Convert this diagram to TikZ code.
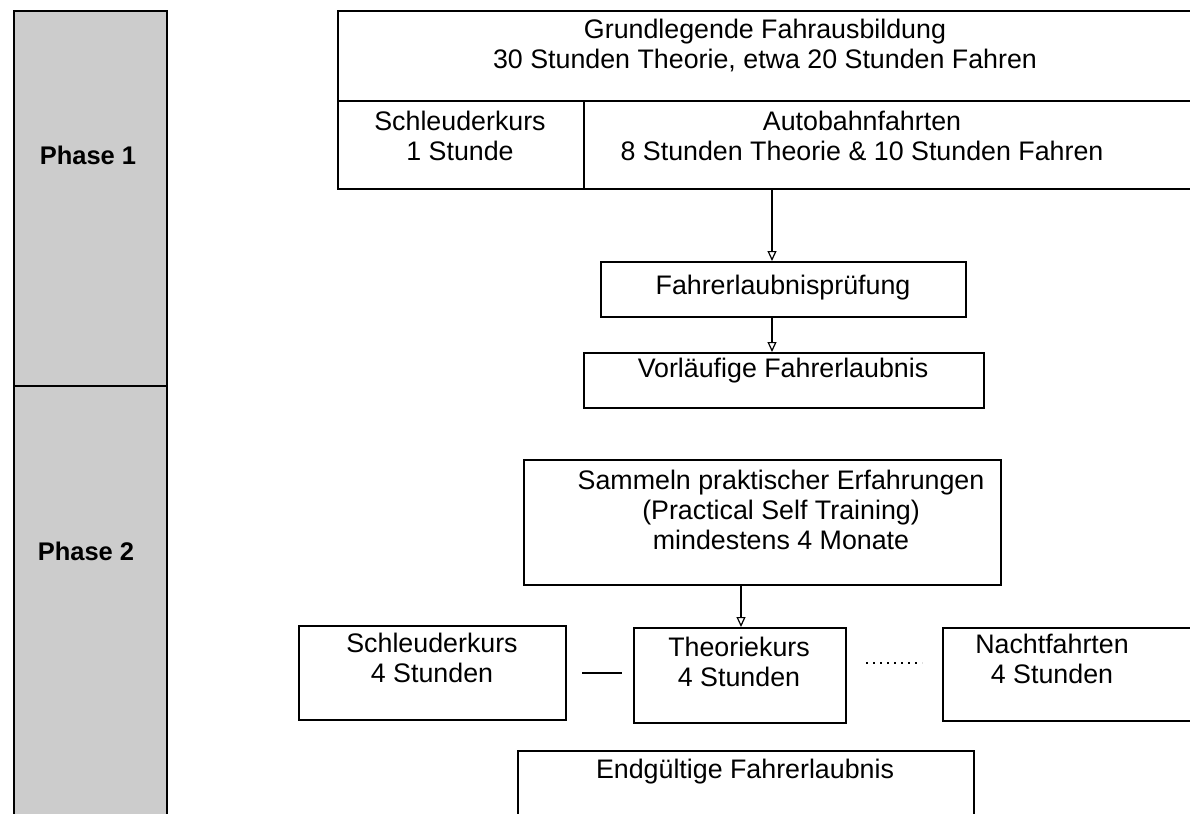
\documentclass[tikz,border=0pt]{standalone}
\usepackage{fontspec}
\setmainfont{Liberation Sans}
\usetikzlibrary{arrows.meta}
\begin{document}
\begin{tikzpicture}[x=1pt,y=-1pt,
  box/.style={draw=black,line width=2.1pt,inner sep=0pt,anchor=north west},
  phasebox/.style={draw=black,line width=2.1pt,fill=black!20,inner sep=0pt,anchor=north west},
  txt/.style={align=center,font=\fontsize{26.8}{30}\selectfont,inner sep=0pt},
  phasetxt/.style={font=\fontsize{25.5}{30}\selectfont\bfseries,inner sep=0pt},
  flow/.style={line width=1.3pt,-{Triangle[open,length=10pt,width=9pt,line width=1.2pt]}},
  link/.style={line width=2pt},
  dotlink/.style={line width=1.6pt,dash pattern=on 1.6pt off 5.4pt}]
\useasboundingbox (0,0) rectangle (1190,813);
\clip (0,0) rectangle (1190,813);
% phase column
\node[phasebox,minimum width=153pt,minimum height=375pt] (ph1) at (13,10) {};
\node[phasebox,minimum width=153pt,minimum height=445pt] (ph2) at (13,385) {};
\node[phasetxt] (ph1t) at (88,155) {Phase 1};
\node[phasetxt] (ph2t) at (86,551) {Phase 2};
% top block
\node[box,minimum width=863pt,minimum height=90pt] (grund) at (337,10) {};
\node[box,minimum width=246pt,minimum height=88pt] (schl1) at (337,100) {};
\node[box,minimum width=617pt,minimum height=88pt] (auto) at (583,100) {};
\node[txt] (grundt) at (765,46) {Grundlegende Fahrausbildung\\30 Stunden Theorie, etwa 20 Stunden Fahren};
\node[txt] (schl1t) at (460,136) {Schleuderkurs\\1 Stunde};
\node[txt] (autot) at (862,136) {Autobahnfahrten\\8 Stunden Theorie \& 10 Stunden Fahren};
% middle
\node[box,minimum width=365pt,minimum height=55pt] (pruef) at (600,261) {};
\node[txt] (prueft) at (783,288) {Fahrerlaubnisprüfung};
\node[box,minimum width=400pt,minimum height=55pt] (vorl) at (583,352) {};
\node[txt] (vorlt) at (783,371) {Vorläufige Fahrerlaubnis};
\node[box,minimum width=477pt,minimum height=125pt] (samm) at (523,459) {};
\node[txt] (sammt) at (781,510) {Sammeln praktischer Erfahrungen\\(Practical Self Training)\\mindestens 4 Monate};
% bottom row
\node[box,minimum width=267pt,minimum height=94pt] (schl4) at (298,625) {};
\node[txt] (schl4t) at (432,658) {Schleuderkurs\\4 Stunden};
\node[box,minimum width=212pt,minimum height=95pt] (theo) at (633,627) {};
\node[txt] (theot) at (739,662) {Theoriekurs\\4 Stunden};
\node[box,minimum width=248pt,minimum height=93pt] (nacht) at (942,627) {};
\node[txt] (nachtt) at (1052,659) {Nachtfahrten\\4 Stunden};
\node[box,minimum width=456pt,minimum height=80pt] (endg) at (517,750) {};
\node[txt] (endgt) at (745,772) {Endgültige Fahrerlaubnis};
% connectors
\coordinate (a1) at (772,0);
\coordinate (a2) at (741,0);
\draw[flow] (auto.south -| a1) -- (pruef.north -| a1);
\draw[flow] (pruef.south -| a1) -- (vorl.north -| a1);
\draw[flow] (samm.south -| a2) -- (theo.north -| a2);
\coordinate (d1) at (582,673);
\coordinate (d2) at (622,673);
\draw[link] (d1) -- (d2);
\coordinate (e1) at (866,663);
\coordinate (e2) at (922,663);
\draw[dotlink] (e1) -- (e2);
\end{tikzpicture}
\end{document}
